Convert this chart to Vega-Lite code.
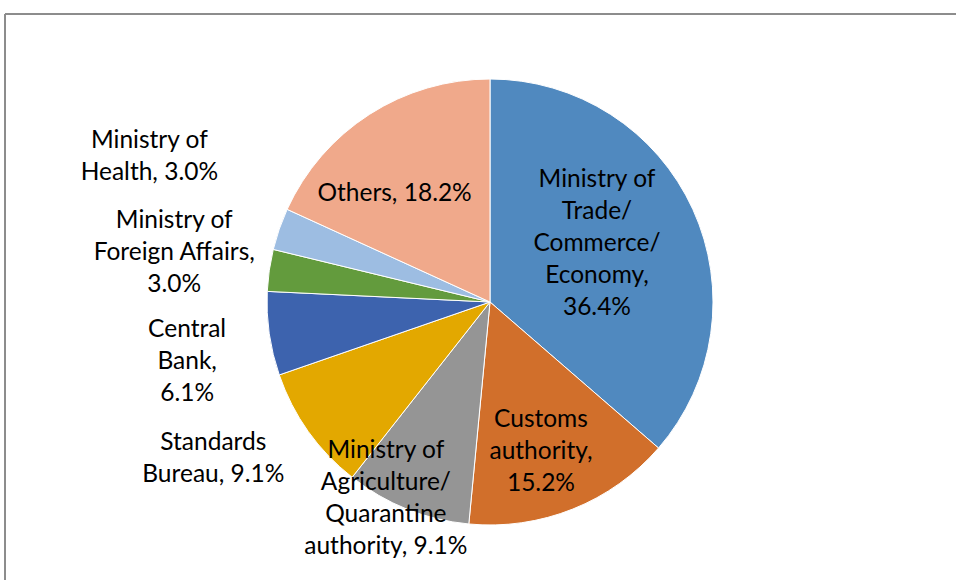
{
  "$schema": "https://vega.github.io/schema/vega-lite/v6.json",
  "width": 970,
  "height": 576,
  "autosize": "none",
  "padding": {"left": 5, "top": 14, "right": -19, "bottom": -10},
  "background": "white",
  "config": {
    "view": {"stroke": null},
    "text": {"font": "Lato", "fontSize": 24.5, "color": "#000000"}
  },
  "data": {
    "values": [
      {"idx": 1, "cat": "Trade", "n": 12, "label": "Ministry of\nTrade/\nCommerce/\nEconomy,\n36.4%"},
      {"idx": 2, "cat": "Customs", "n": 5, "label": "Customs\nauthority,\n15.2%"},
      {"idx": 3, "cat": "Agriculture", "n": 3, "label": "Ministry of\nAgriculture/\nQuarantine\nauthority, 9.1%"},
      {"idx": 4, "cat": "Standards", "n": 3, "label": "Standards\nBureau, 9.1%"},
      {"idx": 5, "cat": "Central", "n": 2, "label": "Central\nBank,\n6.1%"},
      {"idx": 6, "cat": "Foreign", "n": 1, "label": "Ministry of\nForeign Affairs,\n3.0%"},
      {"idx": 7, "cat": "Health", "n": 1, "label": "Ministry of\nHealth, 3.0%"},
      {"idx": 8, "cat": "Others", "n": 6, "label": "Others, 18.2%"}
    ]
  },
  "layer": [
    {
      "mark": {"type": "rect", "filled": false, "stroke": "#8c8c8c", "strokeWidth": 1},
      "encoding": {}
    },
    {
      "mark": {"type": "arc", "outerRadius": 223, "stroke": "white", "strokeWidth": 1},
      "encoding": {
        "theta": {"field": "n", "type": "quantitative", "stack": true},
        "order": {"field": "idx", "type": "quantitative"},
        "color": {
          "field": "cat", "type": "nominal", "legend": null,
          "scale": {
            "domain": ["Trade", "Customs", "Agriculture", "Standards", "Central", "Foreign", "Health", "Others"],
            "range": ["#5089BF", "#D16F2B", "#959595", "#E3A800", "#3D63AE", "#639B3D", "#9DBDE2", "#F0A98B"]
          }
        }
      }
    },
    {
      "mark": {"type": "text", "radius": 122, "dx": -4, "dy": -71, "lineBreak": "\n", "lineHeight": 32},
      "encoding": {
        "theta": {"field": "n", "type": "quantitative", "stack": true},
        "order": {"field": "idx", "type": "quantitative"},
        "text": {"field": "label", "type": "nominal", "condition": {"test": "datum.cat !== 'Trade'", "value": ""}}
      }
    },
    {
      "mark": {"type": "text", "radius": 156, "dx": -7, "dy": -27, "lineBreak": "\n", "lineHeight": 32},
      "encoding": {
        "theta": {"field": "n", "type": "quantitative", "stack": true},
        "order": {"field": "idx", "type": "quantitative"},
        "text": {"field": "label", "type": "nominal", "condition": {"test": "datum.cat !== 'Customs'", "value": ""}}
      }
    },
    {
      "mark": {"type": "text", "radius": 221, "dx": -22, "dy": -56, "lineBreak": "\n", "lineHeight": 32},
      "encoding": {
        "theta": {"field": "n", "type": "quantitative", "stack": true},
        "order": {"field": "idx", "type": "quantitative"},
        "text": {"field": "label", "type": "nominal", "condition": {"test": "datum.cat !== 'Agriculture'", "value": ""}}
      }
    },
    {
      "mark": {"type": "text", "radius": 145, "dx": -17, "dy": 14, "lineBreak": "\n", "lineHeight": 32},
      "encoding": {
        "theta": {"field": "n", "type": "quantitative", "stack": true},
        "order": {"field": "idx", "type": "quantitative"},
        "text": {"field": "label", "type": "nominal", "condition": {"test": "datum.cat !== 'Others'", "value": ""}}
      }
    },
    {
      "mark": {"type": "text", "radius": 320, "dx": -16, "dy": -45, "lineBreak": "\n", "lineHeight": 32},
      "encoding": {
        "theta": {"field": "n", "type": "quantitative", "stack": true},
        "order": {"field": "idx", "type": "quantitative"},
        "text": {"field": "label", "type": "nominal", "condition": {"test": "datum.cat !== 'Standards'", "value": ""}}
      }
    },
    {
      "mark": {"type": "text", "radius": 308, "dx": 2, "dy": -16, "lineBreak": "\n", "lineHeight": 32},
      "encoding": {
        "theta": {"field": "n", "type": "quantitative", "stack": true},
        "order": {"field": "idx", "type": "quantitative"},
        "text": {"field": "label", "type": "nominal", "condition": {"test": "datum.cat !== 'Central'", "value": ""}}
      }
    },
    {
      "mark": {"type": "text", "radius": 319, "dx": 0, "dy": -36, "lineBreak": "\n", "lineHeight": 32},
      "encoding": {
        "theta": {"field": "n", "type": "quantitative", "stack": true},
        "order": {"field": "idx", "type": "quantitative"},
        "text": {"field": "label", "type": "nominal", "condition": {"test": "datum.cat !== 'Foreign'", "value": ""}}
      }
    },
    {
      "mark": {"type": "text", "radius": 370, "dx": 9, "dy": -40, "lineBreak": "\n", "lineHeight": 32},
      "encoding": {
        "theta": {"field": "n", "type": "quantitative", "stack": true},
        "order": {"field": "idx", "type": "quantitative"},
        "text": {"field": "label", "type": "nominal", "condition": {"test": "datum.cat !== 'Health'", "value": ""}}
      }
    }
  ]
}
